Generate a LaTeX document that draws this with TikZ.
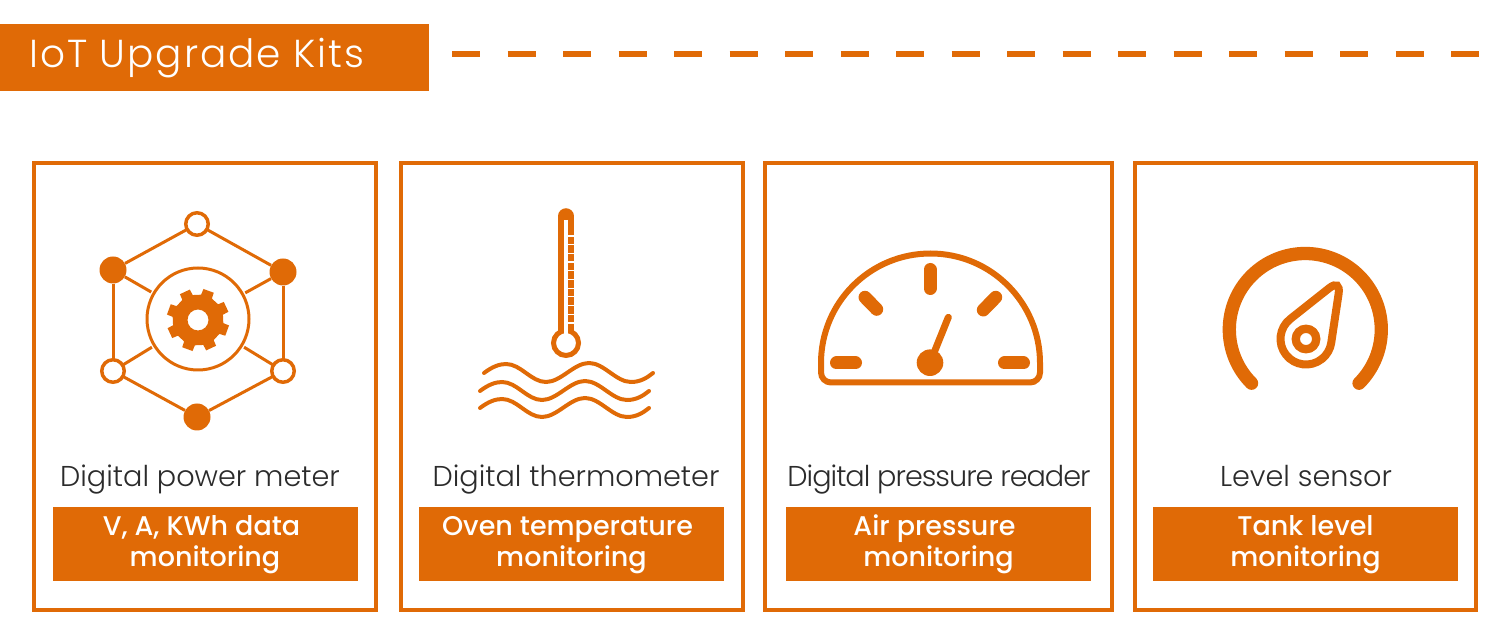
\documentclass[tikz,border=0pt]{standalone}
\usepackage{fontspec}
\setmainfont{Poppins}[UprightFont=* Light,BoldFont=* Medium]
\newfontfamily\headfont{Poppins}[UprightFont=* Light,LetterSpace=5]
\usepackage{xcolor}
\usetikzlibrary{positioning,calc}
\definecolor{kitorange}{HTML}{E06A06}
\definecolor{kittext}{HTML}{2B2B2B}
\tikzset{
    cardbox/.style={draw=kitorange,line width=4pt,inner sep=0pt,minimum height=447pt},
    tagbox/.style={fill=kitorange,text=white,inner sep=0pt,minimum width=305pt,minimum height=74pt,align=center,font=\fontsize{27}{31}\selectfont\bfseries},
    cardtitle/.style={anchor=base,text=kittext,inner sep=0pt,font=\fontsize{28.7}{32}\selectfont},
    opennode/.style={circle,draw=kitorange,fill=white,line width=3.5pt,inner sep=0pt,minimum size=22.5pt,outer sep=1pt},
    fullnode/.style={circle,fill=kitorange,inner sep=0pt,minimum size=27pt},
    hubnode/.style={circle,draw=kitorange,line width=3pt,inner sep=0pt,minimum size=102pt,outer sep=3pt},
    hexline/.style={draw=kitorange,line width=3pt},
    iconline/.style={draw=kitorange,line cap=round}
}
\begin{document}
\begin{tikzpicture}[x=1pt,y=1pt]
    \useasboundingbox (0,0) rectangle (1506,629);
    % header band and the dashed rule
    \node[fill=kitorange,inner sep=0pt,minimum width=429pt,minimum height=67pt] (band) at (214.5,571.5) {};
    \node[anchor=base west,text=white,inner sep=0pt,font=\fontsize{39}{42}\headfont] (bandtext) at (29,561) {IoT Upgrade Kits};
    \coordinate (ruleend) at (1480,575);
    \draw[draw=kitorange,line width=6pt,dash pattern=on 28pt off 27.5pt] ($(band.east |- ruleend)+(23,0)$) -- (ruleend);
    % four cards with title and tag
    \foreach \n/\xbox/\wbox/\xtitle/\xtag/\title/\tagtext in {
        1/205/342/200/205/{Digital power meter}/{V, A, KWh data\kern7pt\\monitoring},
        2/572/342/576/571.5/{Digital thermometer}/{Oven temperature\kern8pt\\monitoring},
        3/938.5/347/939/938.5/{\addfontfeature{LetterSpace=-3.5}Digital pressure reader}/{Air pressure\kern8pt\\monitoring},
        4/1305.5/341/1306/1305.5/{Level sensor}/{Tank level\\monitoring}}
    {
        \node[cardbox,minimum width=\wbox pt] (card\n) at (\xbox,242.5) {};
        \node[cardtitle] (title\n) at (\xtitle,142) {\title};
        \node[tagbox] (tag\n) at (\xtag,85) {\strut\tagtext};
    }
    % network icon
    \node[hubnode] (hub) at (198,310) {};
    \node[opennode] (ntop) at (197,405) {};
    \node[fullnode] (nul) at (113,359) {};
    \node[fullnode] (nur) at (283,357) {};
    \node[opennode] (nll) at (113,258) {};
    \node[opennode] (nlr) at (283,258) {};
    \node[fullnode] (nbot) at (197,212) {};
    \foreach \a/\b in {ntop/nul,ntop/nur,nul/nll,nur/nlr,nll/nbot,nlr/nbot,nul/hub,nur/hub,nll/hub,nlr/hub}
    {
        \draw[hexline] (\a) -- (\b);
    }
    % gear inside the hub
    \fill[kitorange,even odd rule,shift={(198,309)}] (57:25.5)
        \foreach \t in {70,115,...,385} { -- (\t-13:25.5) -- (\t-10:31.5) -- (\t+10:31.5) -- (\t+13:25.5) } -- cycle
        (0,0) circle (10.5);
    % thermometer
    \draw[iconline,line width=15.5pt] (566,413) -- (566,294);
    \foreach \n in {0,...,10}
    {
        \draw[white,line width=1.2pt] (568,393-8.7*\n) -- (575,393-8.7*\n);
    }
    \draw[draw=kitorange,fill=white,line width=5pt] (566,286) circle (12.5);
    \draw[white,line width=3.5pt] (566,409) -- (566,290);
    % three waves under the thermometer
    \foreach \dx/\dy in {4/18,0/0,0/-17}
    {
        \draw[iconline,line width=4pt,shift={(\dx,\dy)}] (480,238) .. controls (488,244) and (495,247) .. (502,247)
            .. controls (517,247) and (527,229) .. (542,229) .. controls (557,229) and (570,248) .. (585,248)
            .. controls (600,248) and (612,229) .. (627,229) .. controls (636,229) and (643,233) .. (649,238);
    }
    % pressure gauge
    \draw[draw=kitorange,line width=6pt] (821,266) arc (180:0:109.5) -- (1040,256.5) arc (0:-90:10) -- (831,246.5) arc (-90:-180:10) -- cycle;
    \foreach \xa/\ya/\xb/\yb in {836.5/266/855.5/266,1004.5/266/1023.5/266,930/359.5/930/340.5,865/331.7/876.7/319.7,995.7/331.7/983.3/319}
    {
        \draw[iconline,line width=13pt] (\xa,\ya) -- (\xb,\yb);
    }
    \draw[iconline,line width=7pt] (930,266.3) -- (948.3,311.7);
    \fill[kitorange] (930,266.3) circle (13.3);
    % level sensor
    \draw[iconline,line width=13.3pt] ([shift={(225:76)}]1305.3,299.5) arc (225:-45:76);
    \draw[draw=kitorange,line width=8pt] (1290.2,310) arc (128.3:351.4:25.5) -- (1338.6,335.2)
        .. controls (1339.9,344.2) and (1336.1,346.3) .. (1329.1,340.8) -- cycle;
    \draw[draw=kitorange,line width=8.3pt] (1306,290) circle (10.25);
\end{tikzpicture}
\end{document}
